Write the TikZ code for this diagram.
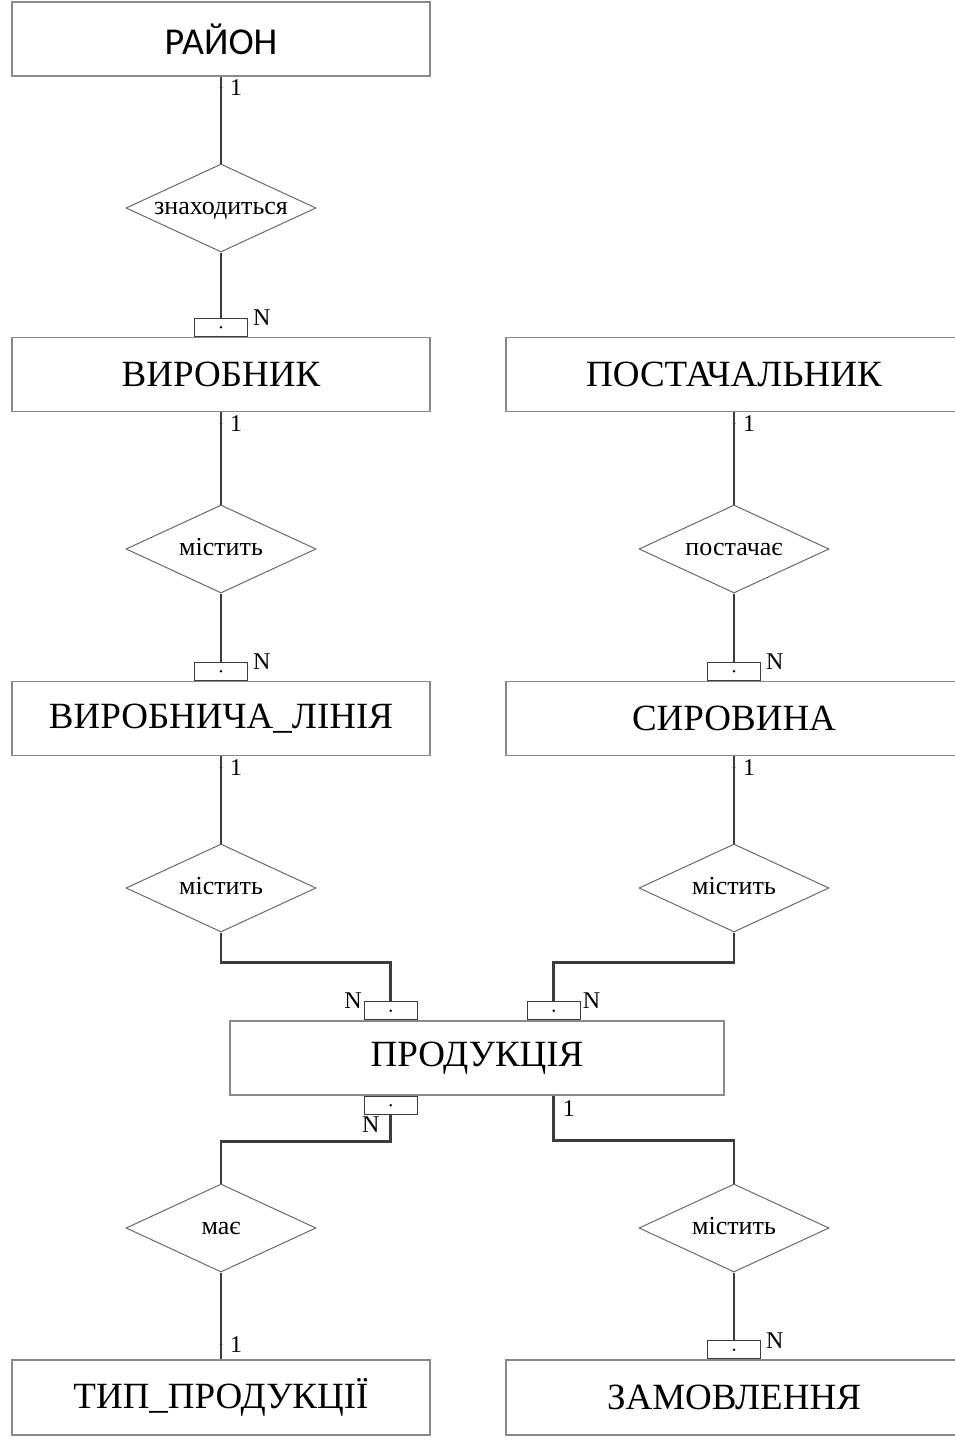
\documentclass[tikz,border=0pt]{standalone}
\usepackage{fontspec}
\setmainfont{Liberation Serif}
\newfontfamily\rajonfont{Carlito}
\usetikzlibrary{shapes.geometric, positioning}

\definecolor{linegray}{HTML}{3C3C3C}
\definecolor{boxgray}{HTML}{8A8A8A}
\definecolor{rhombgray}{HTML}{6A6A6A}

\begin{document}
\begin{tikzpicture}[x=1pt,y=-1pt,
		entity/.style={draw=boxgray, line width=1.5pt, minimum width=418pt, minimum height=74pt, inner sep=0pt, font=\fontsize{37}{40}\selectfont},
		rel/.style={diamond, aspect=2.16, draw=rhombgray, line width=1pt, minimum width=190pt, minimum height=88pt, inner sep=0pt, text height=14pt, text depth=2pt, font=\fontsize{26}{28}\selectfont},
		card/.style={draw=linegray, line width=0.9pt, minimum width=53pt, minimum height=18pt, inner sep=0pt},
		conn/.style={draw=linegray, line width=2.8pt},
		lbl/.style={inner sep=1pt, font=\fontsize{24}{26}\selectfont}]
					\useasboundingbox (0,0) rectangle (955,1440);
					\node[entity, font=\rajonfont\fontsize{38}{40}\selectfont] (rajon) at (221,39) {РАЙОН};
					\node[entity] (vyrobnyk) at (221,374.5) {ВИРОБНИК};
					\node[entity, minimum width=456pt] (postach) at (734,374.5) {ПОСТАЧАЛЬНИК};
					\node[entity] (linija) at (221,718.5) {ВИРОБНИЧА\_ЛІНІЯ};
					\node[entity, minimum width=456pt] (syrovyna) at (734,718.5) {СИРОВИНА};
					\node[entity, minimum width=494pt] (produkcija) at (477,1058) {ПРОДУКЦІЯ};
					\node[entity, minimum height=75pt] (typ) at (221,1397.5) {ТИП\_ПРОДУКЦІЇ};
					\node[entity, minimum width=456pt, minimum height=75pt] (zamovl) at (734,1397.5) {ЗАМОВЛЕННЯ};
					
					\node[rel] (znah) at (221,208) {знаходиться};
					\node[rel] (mist1) at (221,549) {містить};
					\node[rel] (postachaje) at (734,549) {постачає};
					\node[rel] (mist2) at (221,888) {містить};
					\node[rel] (mist3) at (734,888) {містить};
					\node[rel] (maje) at (221,1228) {має};
					\node[rel] (mist4) at (734,1228) {містить};
					
					\node[card, above=0pt of vyrobnyk] (c1) {};
					\node[card, above=0pt of linija] (c2) {};
					\node[card, above=0pt of syrovyna] (c3) {};
					\node[card, above=0pt of produkcija.north west, anchor=south, xshift=161.5pt] (c4) {};
					\node[card, above=0pt of produkcija.north west, anchor=south, xshift=324.5pt] (c5) {};
					\node[card, below=0pt of produkcija.south west, anchor=north, xshift=161.5pt] (c6) {};
					\node[card, above=0pt of zamovl] (c7) {};
					\foreach \c in {c1,c2,c3,c4,c5,c6,c7}
						\fill (\c.center) circle (1.4pt);
					
					\coordinate (p1) at (produkcija.south -| c5);
					
					\draw[conn] (rajon) -- (znah);
					\draw[conn] (znah) -- (c1);
					\draw[conn] (vyrobnyk) -- (mist1);
					\draw[conn] (mist1) -- (c2);
					\draw[conn] (postach) -- (postachaje);
					\draw[conn] (postachaje) -- (c3);
					\draw[conn] (linija) -- (mist2);
					\draw[conn] (mist2.south) -- ++(0,30) -| (c4.north);
					\draw[conn] (syrovyna) -- (mist3);
					\draw[conn] (mist3.south) -- ++(0,30) -| (c5.north);
					\draw[conn] (c6.south) -- ++(0,27) -| (maje.north);
					\draw[conn] (p1) -- ++(0,45) -| (mist4.north);
					\draw[conn] (maje) -- (typ);
					\draw[conn] (mist4) -- (c7);
					
					\node[lbl, right=4pt of c1.north east, anchor=north west, yshift=9pt] (n1) {N};
					\node[lbl, right=4pt of c2.north east, anchor=north west, yshift=9pt] (n2) {N};
					\node[lbl, right=4pt of c3.north east, anchor=north west, yshift=9pt] (n3) {N};
					\node[lbl, left=1pt of c4.north west, anchor=north east, yshift=10pt] (n4) {N};
					\node[lbl, right=1pt of c5.north east, anchor=north west, yshift=10pt] (n5) {N};
					\node[lbl, anchor=north east] (n6) at ([xshift=-10pt,yshift=-1pt]c6.south) {N};
					\node[lbl, right=4pt of c7.north east, anchor=north west, yshift=9pt] (n7) {N};
					
					\coordinate (t1) at ([yshift=-11pt]rajon.south);
					\coordinate (t2) at ([yshift=-11pt]vyrobnyk.south);
					\coordinate (t3) at ([yshift=-11pt]postach.south);
					\coordinate (t4) at ([yshift=-11pt]linija.south);
					\coordinate (t5) at ([yshift=-11pt]syrovyna.south);
					\coordinate (t6) at ([yshift=-13pt]p1);
					\coordinate (t7) at ([yshift=15pt]typ.north);
					\foreach \t in {t1,t2,t3,t4,t5,t6,t7}{
						\fill[linegray] (\t) circle (1.5pt);
						\node[lbl, anchor=west] (l\t) at ([xshift=8pt]\t) {1};
					}
					
				\end{tikzpicture}
\end{document}
